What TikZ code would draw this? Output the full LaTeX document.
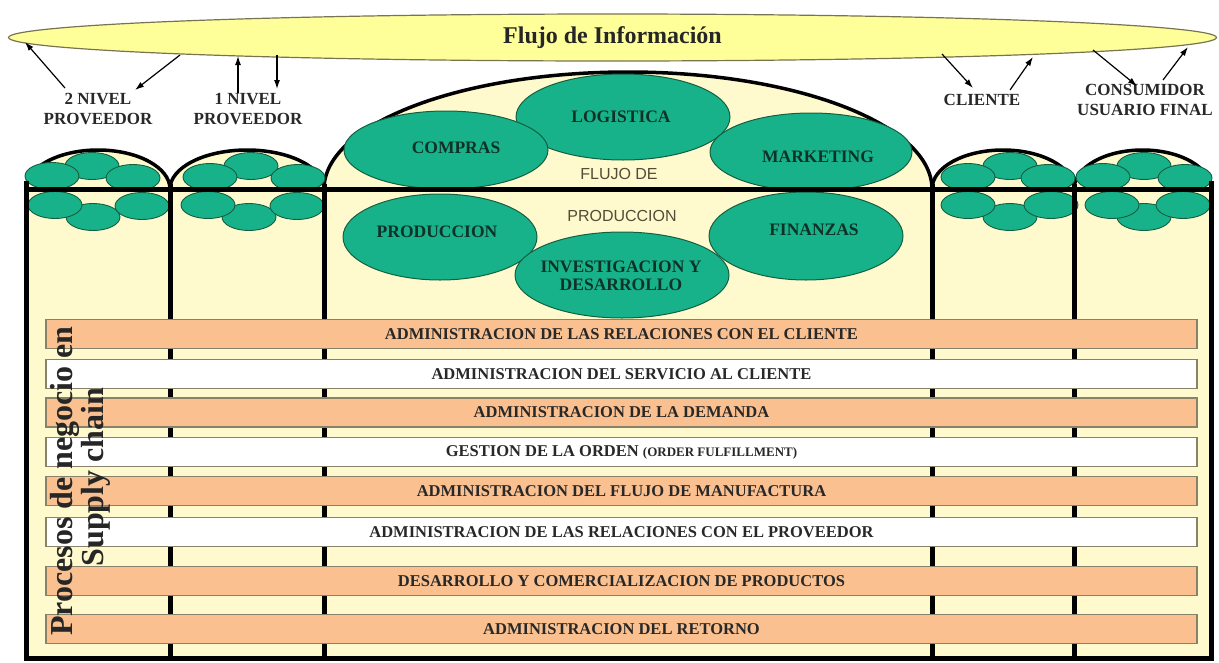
\documentclass[tikz,border=0pt]{standalone}
\usepackage{fontspec}
\setmainfont{Liberation Serif}
\newfontfamily\sansf{Liberation Sans}
\usetikzlibrary{arrows.meta,shapes.geometric}
\definecolor{bodyY}{RGB}{255,250,205}
\definecolor{topY}{RGB}{255,255,153}
\definecolor{topB}{RGB}{120,115,80}
\definecolor{tealF}{RGB}{24,178,138}
\definecolor{tealD}{RGB}{20,95,65}
\definecolor{tealT}{RGB}{15,50,40}
\definecolor{barO}{RGB}{250,192,143}
\definecolor{barB}{RGB}{135,130,105}
\definecolor{txtD}{RGB}{40,40,40}
\definecolor{sansC}{RGB}{85,75,55}
\begin{document}
\begin{tikzpicture}[x=1pt,y=-1pt,
  smallell/.style={ellipse,draw=tealD,line width=0.9pt,fill=tealF,minimum width=54pt,minimum height=27pt,inner sep=0pt},
  bigell/.style={ellipse,draw=tealD,line width=1pt,fill=tealF,inner sep=0pt},
  elltext/.style={align=center,text=tealT,inner sep=0pt,font=\fontsize{17.5}{18.5}\selectfont\bfseries},
  toplabel/.style={align=center,text=txtD,font=\fontsize{17}{20}\selectfont\bfseries},
  struct/.style={line width=5pt,black},
  domeline/.style={line width=3.5pt,black},
  barO/.style={rectangle,draw=barB,line width=1.8pt,fill=barO,minimum width=1151pt,minimum height=29pt,inner sep=0pt,text=txtD,font=\fontsize{16.5}{18}\selectfont\bfseries},
  barW/.style={barO,fill=white},
  arr/.style={line width=1.2pt,-{Latex[length=9pt,width=6pt]}},
  sanslab/.style={text=sansC,font=\sansf\fontsize{16}{18}\selectfont}
]
\useasboundingbox (0,0) rectangle (1219,662);
\fill[white] (0,0) rectangle (1219,662);

% information flow ellipse
\node[ellipse,draw=topB,line width=1.2pt,fill=topY,minimum width=1208pt,minimum height=47pt,inner sep=0pt,text=black!85,font=\fontsize{24}{26}\selectfont\bfseries] (info) at (612.5,37.5) {Flujo de Información};

% labels
\node[toplabel] (niv2) at (98,109) {2 NIVEL\\PROVEEDOR};
\node[toplabel] (niv1) at (248,109) {1 NIVEL\\PROVEEDOR};
\node[toplabel] (cli) at (982,100) {CLIENTE};
\node[toplabel] (cons) at (1145,100) {CONSUMIDOR\\USUARIO FINAL};

% arrow end points
\coordinate (p1a) at (65,88);  \coordinate (p1b) at (25,42);
\coordinate (p2a) at (180,55); \coordinate (p2b) at (135,90);
\coordinate (p3a) at (238,93); \coordinate (p3b) at (238,56);
\coordinate (p4a) at (277,55); \coordinate (p4b) at (277,89);
\coordinate (p5a) at (942,54); \coordinate (p5b) at (973,88);
\coordinate (p6a) at (1010,90);\coordinate (p6b) at (1033,57);
\coordinate (p7a) at (1093,50);\coordinate (p7b) at (1137,86);
\coordinate (p8a) at (1163,80);\coordinate (p8b) at (1188,47);
\foreach \a/\b in {p1a/p1b,p2a/p2b,p3a/p3b,p4a/p4b,p5a/p5b,p6a/p6b,p7a/p7b,p8a/p8b}
  \draw[arr] (\a) -- (\b);

% body fill
\fill[bodyY] (26,189) rectangle (1211,658);
\fill[bodyY] (26,189) arc[start angle=180,end angle=360,x radius=72,y radius=39] -- cycle;
\fill[bodyY] (170,189) arc[start angle=180,end angle=360,x radius=77,y radius=39] -- cycle;
\fill[bodyY] (324,189) arc[start angle=180,end angle=360,x radius=304,y radius=117] -- cycle;
\fill[bodyY] (932,189) arc[start angle=180,end angle=360,x radius=71,y radius=39] -- cycle;
\fill[bodyY] (1074,189) arc[start angle=180,end angle=360,x radius=68.5,y radius=39] -- cycle;

% dome lines
\draw[domeline] (26,189) arc[start angle=180,end angle=360,x radius=72,y radius=39];
\draw[domeline] (170,189) arc[start angle=180,end angle=360,x radius=77,y radius=39];
\draw[domeline] (324,189) arc[start angle=180,end angle=360,x radius=304,y radius=117];
\draw[domeline] (932,189) arc[start angle=180,end angle=360,x radius=71,y radius=39];
\draw[domeline] (1074,189) arc[start angle=180,end angle=360,x radius=68.5,y radius=39];

% small ellipses
\foreach \n/\x/\y in {a2/92/166,a1/52/176,a3/133/178,a5/93/217,a4/55/205,a6/142/206,
                      b2/251/166,b1/210/177,b3/298/178,b5/249/217,b4/208/205,b6/297/206,
                      c2/1010/166,c1/968/177,c3/1048/178,c5/1010/217,c4/968/205,c6/1051/205,
                      d2/1144/166,d1/1103/177,d3/1185/178,d5/1144/217,d4/1112/205,d6/1183/205}
  \node[smallell] (s\n) at (\x,\y) {};

% big ellipses
\node[bigell,minimum width=214pt,minimum height=86pt] (log) at (623,117) {};
\node[bigell,minimum width=204pt,minimum height=78pt] (comp) at (446,150) {};
\node[bigell,minimum width=202pt,minimum height=78pt] (mark) at (811,152) {};
\node[bigell,minimum width=194pt,minimum height=86pt] (prod) at (440,237) {};
\node[bigell,minimum width=194pt,minimum height=88pt] (fin) at (806,236) {};
\node[bigell,minimum width=214pt,minimum height=86pt] (inv) at (622,275) {};
\node[elltext] (tlog) at (621,117) {LOGISTICA};
\node[elltext] (tcomp) at (456,148) {COMPRAS};
\node[elltext] (tmark) at (818,157) {MARKETING};
\node[elltext] (tprod) at (437,232) {PRODUCCION};
\node[elltext] (tfin) at (814,230) {FINANZAS};
\node[elltext] (tinv) at (621,276) {INVESTIGACION Y\\DESARROLLO};
\node[sanslab] (fl1) at (619,174) {FLUJO DE};
\node[sanslab] (fl2) at (622,216) {PRODUCCION};

% structure lines
\draw[struct] (24,189) -- (1213.5,189);
\draw[struct] (26,181) -- (26,658) -- (1211,658) -- (1211,181);
\foreach \x in {170,324,932,1074}
  \draw[struct] (\x,184) -- (\x,658);

% process bars
\node[barO] (r1) at (621.5,334) {ADMINISTRACION DE LAS RELACIONES CON EL CLIENTE};
\node[barW] (r2) at (621.5,374) {ADMINISTRACION DEL SERVICIO AL CLIENTE};
\node[barO] (r3) at (621.5,412.5) {ADMINISTRACION DE LA DEMANDA};
\node[barW] (r4) at (621.5,452) {GESTION DE LA ORDEN {\fontsize{13}{14}\selectfont (ORDER FULFILLMENT)}};
\node[barO] (r5) at (621.5,491) {ADMINISTRACION DEL FLUJO DE MANUFACTURA};
\node[barW] (r6) at (621.5,532) {ADMINISTRACION DE LAS RELACIONES CON EL PROVEEDOR};
\node[barO] (r7) at (621.5,581) {DESARROLLO Y COMERCIALIZACION DE PRODUCTOS};
\node[barO] (r8) at (621.5,629) {ADMINISTRACION DEL RETORNO};

% vertical title
\node[rotate=90,anchor=base,text=black!85,font=\fontsize{32}{34}\selectfont\bfseries] (vt1) at (72,481) {Procesos de negocio en};
\node[rotate=90,anchor=base,text=black!85,font=\fontsize{32}{34}\selectfont\bfseries] (vt2) at (103,477) {Supply chain};
\end{tikzpicture}
\end{document}
